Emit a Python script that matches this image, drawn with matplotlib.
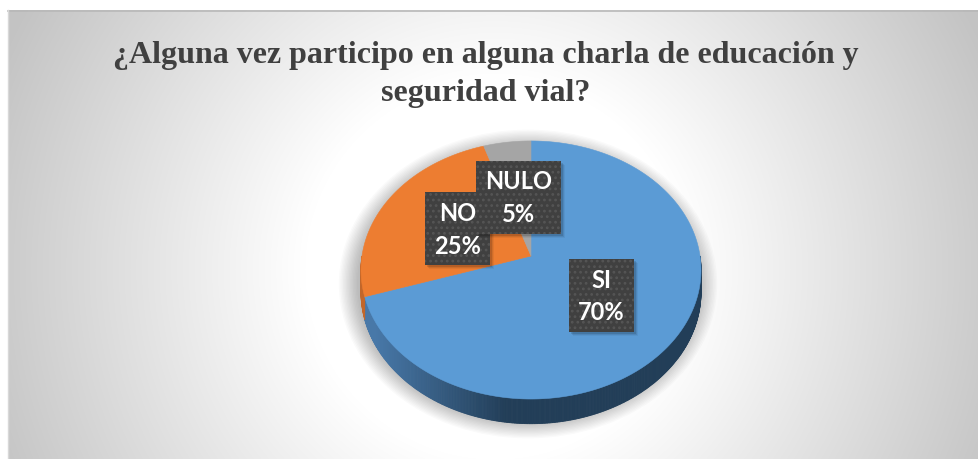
import numpy as np
import matplotlib
matplotlib.use("Agg")
import matplotlib.pyplot as plt
from matplotlib.patches import Polygon, Rectangle, Ellipse
from matplotlib.colors import to_rgb

# ---------------- data ----------------
title_lines = ["¿Alguna vez participo en alguna charla de educación y",
               "seguridad vial?"]
categories = ["SI", "NO", "NULO"]
values = [70, 25, 5]
top_colors = ["#5b9bd5", "#ed7d31", "#a5a5a5"]
side_light = ["#4878a8", "#c2662a", "#8a8a8a"]
side_dark = ["#223e58", "#7a3f18", "#5a5a5a"]

plt.rcParams["hatch.linewidth"] = 1.2

W, H = 979, 460
fig = plt.figure(figsize=(W / 100, H / 100), dpi=100)
fig.patch.set_facecolor("white")
ax = fig.add_axes([0, 0, 1, 1])
ax.set_xlim(0, W)
ax.set_ylim(H, 0)
ax.axis("off")

# ---------------- background (radial gradient panel) ----------------
px0, py0 = 8, 11
yy, xx = np.mgrid[py0:H, px0:W]
d = np.hypot(xx - 495.0, (yy - 270.0))
t = np.clip((d - 190.0) / 350.0, 0, 1)
g = (255 - 60 * t) / 255.0
img = np.dstack([g, g, g])
ax.imshow(img, extent=[px0, W, H, py0], origin="upper", zorder=0,
          interpolation="bilinear", aspect="auto")
ax.plot([px0, W], [py0 + 0.5, py0 + 0.5], color="#b8b8b8", lw=1.2, zorder=1)
ax.plot([px0 + 0.5, px0 + 0.5], [py0, H], color="#d8d8d8", lw=1.0, zorder=1)

# ---------------- title ----------------
tfont = dict(family=["Liberation Serif", "DejaVu Serif"], weight="bold",
             size=23, color="#404040")
ax.text(486, 63, title_lines[0], ha="center", va="baseline", zorder=5, **tfont)
ax.text(486, 101, title_lines[1], ha="center", va="baseline", zorder=5, **tfont)

# ---------------- 3D pie geometry ----------------
X0, Y0 = 531.0, 257.0
A, B, K = 169.0, 127.5, 0.1085
DEPTH = 22.0


def proj(theta_deg, r=1.0, z=0.0):
    th = np.radians(theta_deg)
    u = r * np.sin(th)
    v = r * np.cos(th)
    s = 1.0 / (1.0 + K * v)
    return X0 + A * u * s, Y0 - B * v * s + z * s


# shadow
for i in range(14):
    e = Ellipse((X0 - 3, Y0 + 28), 2 * (A + 2 + i * 1.4), 2 * (B + 10 + i * 1.3),
                facecolor="black", edgecolor="none", alpha=0.02, zorder=2)
    ax.add_patch(e)

total = float(sum(values))
bounds = np.concatenate([[0], np.cumsum(values)]) / total * 360.0

# side walls (front half)
for i in range(len(values)):
    a0, a1 = max(bounds[i], 90.0), min(bounds[i + 1], 270.0)
    if a1 <= a0:
        continue
    angs = np.linspace(a0, a1, int((a1 - a0) * 2) + 2)
    c_l, c_d = np.array(to_rgb(side_light[i])), np.array(to_rgb(side_dark[i]))
    for j in range(len(angs) - 1):
        x1, y1 = proj(angs[j])
        x2, y2 = proj(angs[j + 1])
        xb1, yb1 = proj(angs[j], z=DEPTH)
        xb2, yb2 = proj(angs[j + 1], z=DEPTH)
        tt = np.clip((0.5 * (x1 + x2) - 375.0) / 130.0, 0, 1)
        col = c_l * (1 - tt) + c_d * tt
        ax.add_patch(Polygon([(x1, y1), (x2, y2), (xb2, yb2), (xb1, yb1)],
                             closed=True, facecolor=col, edgecolor=col,
                             lw=0.6, zorder=3))

# top wedges
for i in range(len(values)):
    angs = np.linspace(bounds[i], bounds[i + 1], int(values[i] * 6) + 2)
    pts = [proj(0, r=0)] + [proj(a) for a in angs]
    ax.add_patch(Polygon(pts, closed=True, facecolor=top_colors[i],
                         edgecolor=top_colors[i], lw=0.4, zorder=4))

# ---------------- data labels ----------------
lfont = dict(family=["Lato", "DejaVu Sans"], weight="bold", size=17,
             color="white")
labels = []
for i in range(len(values)):
    mid = 0.5 * (bounds[i] + bounds[i + 1])
    lx, ly = proj(mid, r=0.5)
    pct = int(round(values[i] / total * 100))
    s = f"{categories[i]}\n{pct}%"
    txt = ax.text(lx, ly + 1, s, ha="center", va="center", linespacing=1.5,
                  zorder=7 + i * 0.1, **lfont,
                  bbox=dict(boxstyle="square,pad=0.38", facecolor="#404040",
                            edgecolor="none"))
    labels.append(txt)

fig.canvas.draw()
inv = ax.transData.inverted()
for i, txt in enumerate(labels):
    bp = txt.get_bbox_patch()
    bb = bp.get_window_extent()
    (x0, y0), (x1, y1) = inv.transform([[bb.x0, bb.y0], [bb.x1, bb.y1]])
    xl, xr = min(x0, x1), max(x0, x1)
    yt, yb = min(y0, y1), max(y0, y1)
    z = txt.get_zorder()
    bp.set_facecolor("none")
    # soft shadow
    for k, a in enumerate([0.12, 0.08, 0.05]):
        ax.add_patch(Rectangle((xl + 2 + k, yt + 2 + k), xr - xl, yb - yt,
                               facecolor="black", edgecolor="none", alpha=a,
                               zorder=z - 0.05))
    # box with dotted texture
    ax.add_patch(Rectangle((xl, yt), xr - xl, yb - yt, facecolor="#404040",
                           edgecolor="#555555", lw=0, hatch="...",
                           zorder=z - 0.01))

fig.savefig("out.png", dpi=100, facecolor=fig.get_facecolor())
